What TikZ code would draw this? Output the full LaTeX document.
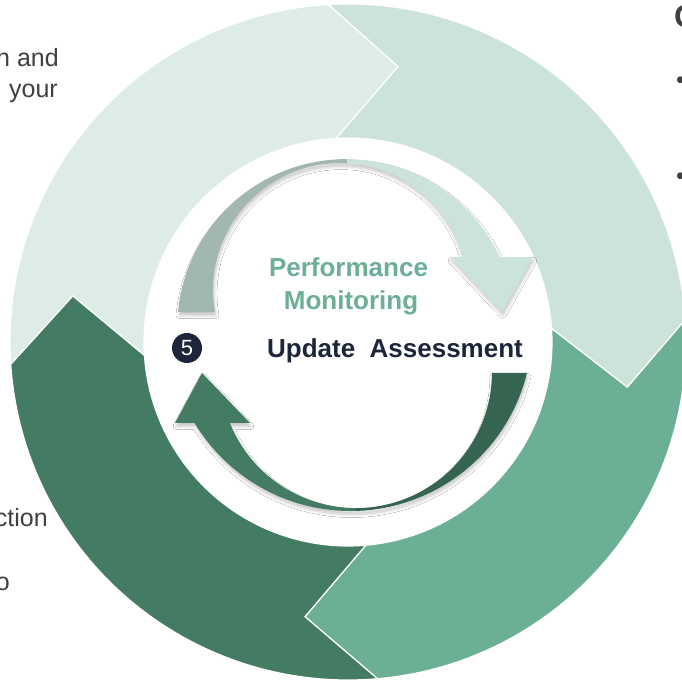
\documentclass[tikz,border=0pt]{standalone}
\usepackage{fontspec}
\setmainfont{Liberation Sans}
\usetikzlibrary{shadows.blur}
\definecolor{segA}{HTML}{DDECE6}
\definecolor{segB}{HTML}{CCE3DA}
\definecolor{segC}{HTML}{6BAF94}
\definecolor{segD}{HTML}{447B63}
\definecolor{arrGray}{HTML}{A2B8AF}
\definecolor{arrDark}{HTML}{356451}
\definecolor{navy}{HTML}{1C2539}
\definecolor{bodygray}{HTML}{404040}
\tikzset{
  segment/.style={draw=white, line width=1.2pt, line join=miter},
  arrowshadow/.style={blur shadow={shadow xshift=1pt, shadow yshift=-3.5pt, shadow blur radius=3pt, shadow blur steps=6, shadow opacity=22}},
  sidetext/.style={inner sep=0pt, text=bodygray, font=\fontsize{25}{30}\selectfont},
  titletext/.style={inner sep=0pt, font=\fontsize{26}{31}\selectfont\bfseries},
}
\begin{document}
\begin{tikzpicture}[x=1pt,y=1pt]
\useasboundingbox (0,0) rectangle (682,682);
\clip (0,0) rectangle (682,682);
\fill[white] (0,0) rectangle (682,682);

% outer ring of four chevron segments
\begin{scope}[shift={(348,340)}]
  \filldraw[segment, fill=segA] (183.8:338) arc[start angle=183.8, end angle=93.3, radius=338]
     -- (79.7:280) -- (93.3:204) arc[start angle=93.3, end angle=183.8, radius=204]
     -- (170.5:279) -- cycle;
  \filldraw[segment, fill=segB] (93.3:338) arc[start angle=93.3, end angle=3.8, radius=338]
     -- (-9.2:283) -- (3.8:204) arc[start angle=3.8, end angle=93.3, radius=204]
     -- (79.7:280) -- cycle;
  \filldraw[segment, fill=segC] (3.8:338) arc[start angle=3.8, end angle=-85, radius=338]
     -- (-98.9:278) -- (-85:204) arc[start angle=-85, end angle=3.8, radius=204]
     -- (-9.2:283) -- cycle;
  \filldraw[segment, fill=segD] (-85:338) arc[start angle=-85, end angle=-176.2, radius=338]
     -- (-189.5:279) -- (-176.2:204) arc[start angle=-176.2, end angle=-85, radius=204]
     -- (-98.9:278) -- cycle;
\end{scope}

% inner top arrow
\path[arrowshadow, path picture={
    \fill[arrGray] (0,0) rectangle (347,682);
    \fill[segB] (347,0) rectangle (682,682);}]
  (178,370) arc[start angle=174.5, end angle=24.8, radius=169]
  -- (533,425) -- (502,370) -- (450,425) -- (462.6,425)
  arc[start angle=15.1, end angle=190, radius=127] -- cycle;

% inner bottom arrow
\path[arrowshadow, path picture={
    \fill[segD] (0,0) rectangle (356,682);
    \fill[arrDark] (356,0) rectangle (682,682);}]
  (527,309) arc[start angle=-14, end angle=-148.9, radius=182]
  -- (175,259) -- (202,309) -- (250,259) -- (229.9,259)
  arc[start angle=-158, end angle=-0.4, radius=136] -- cycle;

% centre texts
\node[titletext, text=segC, anchor=base] (perf) at (348.5,405.3) {Performance};
\node[titletext, text=segC, anchor=base] (moni) at (351,372) {Monitoring};
\node[titletext, text=navy, anchor=base] (upd) at (395,324) {Update~~Assessment};
\node[circle, fill=navy, minimum size=30pt, inner sep=0pt, text=white,
      font=\fontsize{22}{24}\selectfont] (five) at (187,334) {5};

% cut-off side texts
\node[sidetext, anchor=base east] (t1) at (59,615) {n and};
\node[sidetext, anchor=base east] (t2) at (58,584) {your};
\node[sidetext, anchor=base east] (t3) at (48,155) {ction};
\node[sidetext, anchor=base east] (t4) at (10,91) {o};
\node[inner sep=0pt, anchor=base west, text=bodygray, font=\fontsize{32}{36}\selectfont\bfseries] (head) at (674,654) {O};
\node[sidetext, anchor=base west] (b1) at (676,593) {•};
\node[sidetext, anchor=base west] (b2) at (676,497) {•};
\end{tikzpicture}
\end{document}
